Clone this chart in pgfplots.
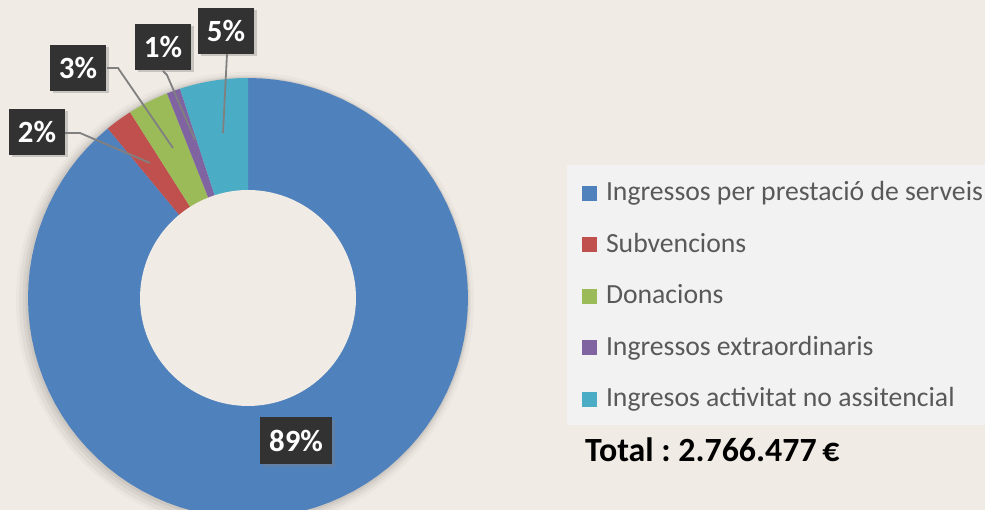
\documentclass[border=0pt]{standalone}
\usepackage{pgfplots}
\pgfplotsset{compat=1.18}
\usepackage{pgfplotstable}
\usepackage{fontspec}
\setmainfont{Carlito}
\usetikzlibrary{shadows}
\frenchspacing
\definecolor{bg}{RGB}{240,235,228}
\definecolor{sblue}{RGB}{79,129,189}
\definecolor{sred}{RGB}{192,80,77}
\definecolor{sgreen}{RGB}{155,187,89}
\definecolor{spurple}{RGB}{128,100,162}
\definecolor{scyan}{RGB}{75,172,198}
\definecolor{labbg}{RGB}{50,50,50}
\definecolor{legbg}{RGB}{242,242,242}
\definecolor{legtext}{RGB}{89,89,89}
\definecolor{leader}{RGB}{128,128,128}

\pgfplotstableread{
value color
89 sblue
2 sred
3 sgreen
1 spurple
5 scyan
}\donutdata

\tikzset{pct/.style={fill=labbg, text=white, font=\fontsize{31}{33}\selectfont\bfseries,
  minimum width=56bp, minimum height=46bp, inner sep=0pt,
  drop shadow={shadow xshift=2.5bp, shadow yshift=-2.5bp, opacity=0.35}}}

\begin{document}
\begin{tikzpicture}
\begin{axis}[
  width=985bp, height=510bp, scale only axis,
  xmin=0, xmax=985, ymin=0, ymax=510,
  hide axis, clip=true,
  legend entries={Ingressos per prestació de serveis, Subvencions, Donacions, Ingressos extraordinaris, Ingresos activitat no assitencial},
  legend image code/.code={\fill[#1] (0bp,0bp) rectangle (15bp,15bp); \path (24bp,0bp);},
  legend style={draw=none, fill=none, inner sep=0pt, outer sep=0pt,
    at={(axis cs:582,327)}, anchor=north west,
    font=\fontsize{27.8}{31}\selectfont, text=legtext,
    row sep=28.5bp,
    nodes={inner sep=0pt, outer sep=0pt, text height=18bp, text depth=5bp},
    cells={anchor=base west}},
]
\fill[bg] (rel axis cs:0,0) rectangle (rel axis cs:1,1);
% soft shadow around donut
\fill[black, opacity=0.025] (axis cs:245,209) circle[radius=229bp];
\fill[black, opacity=0.035] (axis cs:245,209) circle[radius=226bp];
\fill[black, opacity=0.045] (axis cs:246,210) circle[radius=223.5bp];
\fill[black, opacity=0.05] (axis cs:247,211) circle[radius=221.5bp];
% legend box
\fill[legbg] (axis cs:567,85) rectangle (axis cs:985,345);

\def\cum{0}
\pgfplotsforeachungrouped \i in {0,...,4}{
  \pgfplotstablegetelem{\i}{value}\of\donutdata
  \let\v\pgfplotsretval
  \pgfplotstablegetelem{\i}{color}\of\donutdata
  \let\c\pgfplotsretval
  \pgfmathsetmacro\a{\cum*3.6}
  \pgfmathsetmacro\b{(\cum+\v)*3.6}
  \edef\temp{\noexpand\addplot[fill=\c, draw=none, domain=\a:\b, samples=90, variable=\noexpand\t]
    ({248+220*sin(\noexpand\t)},{212+220*cos(\noexpand\t)}) -- (248,212) -- cycle;}
  \temp
  \pgfmathsetmacro\cum{\cum+\v}
}
% hole
\addplot[fill=bg, draw=none, domain=0:360, samples=120, forget plot]
  ({248+108*sin(x)},{212+108*cos(x)}) -- cycle;

% leader lines
\draw[leader, line width=1.8bp] (65,377) -- (80,377) -- (150,347);
\draw[leader, line width=1.8bp] (107,442) -- (118,442) -- (173,362);
\draw[leader, line width=1.8bp] (163,439) -- (167,435) -- (195,370);
\draw[leader, line width=1.8bp] (227,456) -- (223,377);

% labels
\node[pct] at (37,378) {2\%};
\node[pct] at (78,442) {3\%};
\node[pct] at (163,463) {1\%};
\node[pct] at (226,479) {5\%};
\node[pct, minimum width=72bp, minimum height=47bp] at (296,69) {89\%};

\node[anchor=base west, inner sep=0pt, font=\fontsize{34}{36}\selectfont\bfseries, text=black]
  at (585,48) {Total : 2.766.477\,€};
\end{axis}
\pgfresetboundingbox
\useasboundingbox (current axis.south west) rectangle (current axis.north east);
\end{tikzpicture}
\end{document}
